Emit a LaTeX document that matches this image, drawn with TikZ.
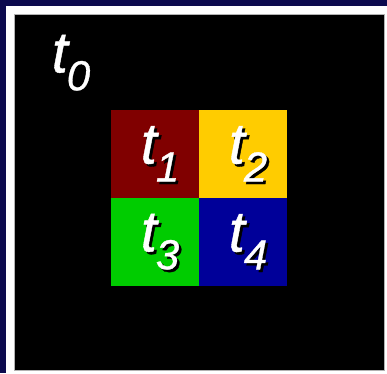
\documentclass[tikz,border=0pt]{standalone}
\usepackage{fontspec}
\setmainfont{Liberation Sans}[ItalicFeatures={FakeBold=0.7}]
\usetikzlibrary{positioning}
\definecolor{frameblue}{RGB}{12,10,78}
\definecolor{tred}{RGB}{128,0,0}
\definecolor{tyellow}{RGB}{255,204,0}
\definecolor{tgreen}{RGB}{0,204,0}
\definecolor{tblue}{RGB}{0,0,153}
\newcommand{\tlabel}[1]{\itshape t\kern-1pt\raisebox{-18pt}{\fontsize{42}{42}\selectfont\itshape #1}}
\newcommand{\shadowed}[1]{\makebox[0pt][l]{\kern2.5pt\raisebox{-2.5pt}{\color{black}#1}}#1}
\tikzset{
  cell/.style={draw=none, minimum size=88pt, inner sep=0pt, outer sep=0pt},
  tname/.style={text=white, font=\fontsize{58}{58}\selectfont, inner sep=0pt}
}

\begin{document}
\begin{tikzpicture}[x=1pt, y=-1pt]
\useasboundingbox (0,0) rectangle (387,373);

% frame and black field
\fill[frameblue] (0,0) rectangle (387,373);
\fill[white] (6,6) rectangle (387,373);
\filldraw[fill=black, draw=gray!60, line width=1pt] (14.5,14.5) rectangle (384,370);

\node[tname] (t0) at (71,64) {\shadowed{\tlabel{0}}};

% the four cells
\node[cell, fill=tred] (c1) at (155,154) {};
\node[cell, fill=tyellow, right=0pt of c1] (c2) {};
\node[cell, fill=tgreen, below=0pt of c1] (c3) {};
\node[cell, fill=tblue, right=0pt of c3] (c4) {};

\node[tname, xshift=5pt, yshift=-1pt] (t1) at (c1) {\shadowed{\tlabel{1}}};
\node[tname, xshift=5pt, yshift=-1pt] (t2) at (c2) {\shadowed{\tlabel{2}}};
\node[tname, xshift=5pt, yshift=-1pt] (t3) at (c3) {\shadowed{\tlabel{3}}};
\node[tname, xshift=5pt, yshift=-1pt] (t4) at (c4) {\shadowed{\tlabel{4}}};

\end{tikzpicture}
\end{document}
